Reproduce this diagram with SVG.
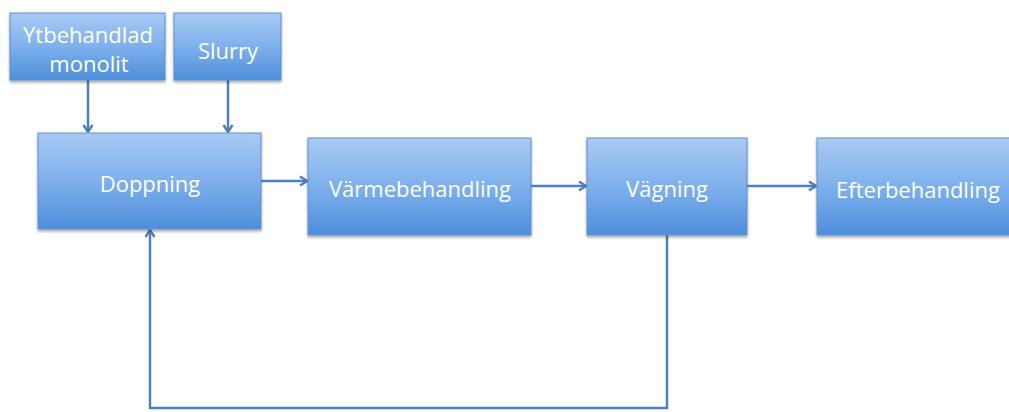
<svg xmlns="http://www.w3.org/2000/svg" width="1009" height="412" viewBox="0 0 1009 412">
<defs>
<linearGradient id="g" x1="0" y1="0" x2="0" y2="1">
<stop offset="0" stop-color="#a9caf3"/>
<stop offset="0.5" stop-color="#7eb0ec"/>
<stop offset="1" stop-color="#4e8edb"/>
</linearGradient>
<filter id="sh" x="-10%" y="-10%" width="120%" height="130%">
<feGaussianBlur in="SourceAlpha" stdDeviation="1.6"/>
<feOffset dx="0" dy="2" result="b"/>
<feComponentTransfer><feFuncA type="linear" slope="0.35"/></feComponentTransfer>
<feMerge><feMergeNode/><feMergeNode in="SourceGraphic"/></feMerge>
</filter>
<marker id="ah" viewBox="0 0 12 12" refX="10" refY="6" markerWidth="12" markerHeight="12" markerUnits="userSpaceOnUse" orient="auto">
<polyline points="3,1.5 10,6 3,10.5" fill="none" stroke="#4f7fbd" stroke-width="2.4" stroke-linejoin="miter"/>
</marker>
</defs>
<style>
.box{fill:url(#g);stroke:#5d8fd0;stroke-width:1;filter:url(#sh)}
.lbl{font-family:"Open Sans","Liberation Sans",sans-serif;font-size:22px;fill:#ffffff;text-anchor:middle}
.con{fill:none;stroke:#4f7fbd;stroke-width:2.5}
</style>
<rect width="1009" height="412" fill="#ffffff"/>
<g id="connectors">
<line class="con" x1="88" y1="80" x2="88" y2="132" marker-end="url(#ah)"/>
<line class="con" x1="228" y1="80" x2="228" y2="132" marker-end="url(#ah)"/>
<line class="con" x1="261" y1="181" x2="307" y2="181" marker-end="url(#ah)"/>
<line class="con" x1="531" y1="186" x2="586" y2="186" marker-end="url(#ah)"/>
<line class="con" x1="747" y1="186" x2="816" y2="186" marker-end="url(#ah)"/>
<polyline class="con" points="667,235 667,408 150,408 150,230" marker-end="url(#ah)"/>
</g>
<g id="node-ytbehandlad">
<rect class="box" x="10" y="13" width="155" height="67"/>
<text class="lbl" x="88" y="43">Ytbehandlad</text>
<text class="lbl" x="89" y="72">monolit</text>
</g>
<g id="node-slurry">
<rect class="box" x="174" y="13" width="107" height="67"/>
<text class="lbl" x="228" y="59">Slurry</text>
</g>
<g id="node-doppning">
<rect class="box" x="38" y="133" width="223" height="96"/>
<text class="lbl" x="150" y="192">Doppning</text>
</g>
<g id="node-varmebehandling">
<rect class="box" x="308" y="138" width="223" height="97"/>
<text class="lbl" x="420" y="197">Värmebehandling</text>
</g>
<g id="node-vagning">
<rect class="box" x="587" y="138" width="160" height="97"/>
<text class="lbl" x="667" y="197">Vägning</text>
</g>
<g id="node-efterbehandling">
<rect class="box" x="817" y="138" width="210" height="97"/>
<text class="lbl" x="918" y="198">Efterbehandling</text>
</g>
</svg>
